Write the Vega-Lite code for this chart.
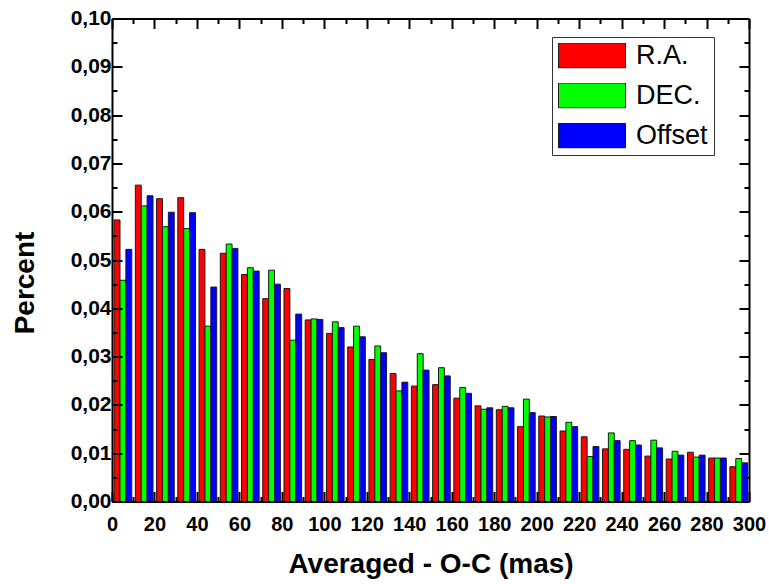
{
  "$schema": "https://vega.github.io/schema/vega-lite/v6.json",
  "autosize": "none",
  "width": 637,
  "height": 483,
  "padding": {"left": 112, "top": 18.5, "right": 20, "bottom": 82.5},
  "background": "white",
  "config": {
    "view": {"stroke": null},
    "font": "Liberation Sans",
    "axis": {
      "grid": false,
      "domainColor": "black",
      "domainWidth": 2,
      "tickColor": "black",
      "tickWidth": 2,
      "labelFont": "Liberation Sans",
      "labelFontWeight": "bold",
      "labelFontSize": 20,
      "labelColor": "black",
      "titleFont": "Liberation Sans",
      "titleFontWeight": "bold",
      "titleFontSize": 28,
      "titleColor": "black"
    }
  },
  "data": {
    "values": [
      {"b": 0, "s": "R.A.", "v": 0.0583}, {"b": 0, "s": "DEC.", "v": 0.0458}, {"b": 0, "s": "Offset", "v": 0.0522},
      {"b": 10, "s": "R.A.", "v": 0.0655}, {"b": 10, "s": "DEC.", "v": 0.0612}, {"b": 10, "s": "Offset", "v": 0.0633},
      {"b": 20, "s": "R.A.", "v": 0.0627}, {"b": 20, "s": "DEC.", "v": 0.0569}, {"b": 20, "s": "Offset", "v": 0.0599},
      {"b": 30, "s": "R.A.", "v": 0.0629}, {"b": 30, "s": "DEC.", "v": 0.0565}, {"b": 30, "s": "Offset", "v": 0.0598},
      {"b": 40, "s": "R.A.", "v": 0.0522}, {"b": 40, "s": "DEC.", "v": 0.0363}, {"b": 40, "s": "Offset", "v": 0.0444},
      {"b": 50, "s": "R.A.", "v": 0.0514}, {"b": 50, "s": "DEC.", "v": 0.0533}, {"b": 50, "s": "Offset", "v": 0.0524},
      {"b": 60, "s": "R.A.", "v": 0.0470}, {"b": 60, "s": "DEC.", "v": 0.0484}, {"b": 60, "s": "Offset", "v": 0.0477},
      {"b": 70, "s": "R.A.", "v": 0.0420}, {"b": 70, "s": "DEC.", "v": 0.0479}, {"b": 70, "s": "Offset", "v": 0.0450},
      {"b": 80, "s": "R.A.", "v": 0.0441}, {"b": 80, "s": "DEC.", "v": 0.0334}, {"b": 80, "s": "Offset", "v": 0.0388},
      {"b": 90, "s": "R.A.", "v": 0.0376}, {"b": 90, "s": "DEC.", "v": 0.0378}, {"b": 90, "s": "Offset", "v": 0.0377},
      {"b": 100, "s": "R.A.", "v": 0.0348}, {"b": 100, "s": "DEC.", "v": 0.0372}, {"b": 100, "s": "Offset", "v": 0.0360},
      {"b": 110, "s": "R.A.", "v": 0.0320}, {"b": 110, "s": "DEC.", "v": 0.0363}, {"b": 110, "s": "Offset", "v": 0.0341},
      {"b": 120, "s": "R.A.", "v": 0.0294}, {"b": 120, "s": "DEC.", "v": 0.0322}, {"b": 120, "s": "Offset", "v": 0.0308},
      {"b": 130, "s": "R.A.", "v": 0.0265}, {"b": 130, "s": "DEC.", "v": 0.0229}, {"b": 130, "s": "Offset", "v": 0.0247},
      {"b": 140, "s": "R.A.", "v": 0.0239}, {"b": 140, "s": "DEC.", "v": 0.0306}, {"b": 140, "s": "Offset", "v": 0.0272},
      {"b": 150, "s": "R.A.", "v": 0.0242}, {"b": 150, "s": "DEC.", "v": 0.0277}, {"b": 150, "s": "Offset", "v": 0.0260},
      {"b": 160, "s": "R.A.", "v": 0.0214}, {"b": 160, "s": "DEC.", "v": 0.0236}, {"b": 160, "s": "Offset", "v": 0.0224},
      {"b": 170, "s": "R.A.", "v": 0.0198}, {"b": 170, "s": "DEC.", "v": 0.0191}, {"b": 170, "s": "Offset", "v": 0.0194},
      {"b": 180, "s": "R.A.", "v": 0.0190}, {"b": 180, "s": "DEC.", "v": 0.0197}, {"b": 180, "s": "Offset", "v": 0.0194},
      {"b": 190, "s": "R.A.", "v": 0.0155}, {"b": 190, "s": "DEC.", "v": 0.0212}, {"b": 190, "s": "Offset", "v": 0.0184},
      {"b": 200, "s": "R.A.", "v": 0.0177}, {"b": 200, "s": "DEC.", "v": 0.0175}, {"b": 200, "s": "Offset", "v": 0.0176},
      {"b": 210, "s": "R.A.", "v": 0.0146}, {"b": 210, "s": "DEC.", "v": 0.0164}, {"b": 210, "s": "Offset", "v": 0.0155},
      {"b": 220, "s": "R.A.", "v": 0.0134}, {"b": 220, "s": "DEC.", "v": 0.0093}, {"b": 220, "s": "Offset", "v": 0.0114},
      {"b": 230, "s": "R.A.", "v": 0.0109}, {"b": 230, "s": "DEC.", "v": 0.0142}, {"b": 230, "s": "Offset", "v": 0.0126},
      {"b": 240, "s": "R.A.", "v": 0.0108}, {"b": 240, "s": "DEC.", "v": 0.0126}, {"b": 240, "s": "Offset", "v": 0.0117},
      {"b": 250, "s": "R.A.", "v": 0.0094}, {"b": 250, "s": "DEC.", "v": 0.0127}, {"b": 250, "s": "Offset", "v": 0.0111},
      {"b": 260, "s": "R.A.", "v": 0.0088}, {"b": 260, "s": "DEC.", "v": 0.0104}, {"b": 260, "s": "Offset", "v": 0.0096},
      {"b": 270, "s": "R.A.", "v": 0.0102}, {"b": 270, "s": "DEC.", "v": 0.0092}, {"b": 270, "s": "Offset", "v": 0.0096},
      {"b": 280, "s": "R.A.", "v": 0.0090}, {"b": 280, "s": "DEC.", "v": 0.0090}, {"b": 280, "s": "Offset", "v": 0.0090},
      {"b": 290, "s": "R.A.", "v": 0.0072}, {"b": 290, "s": "DEC.", "v": 0.0089}, {"b": 290, "s": "Offset", "v": 0.0080}
    ]
  },
  "transform": [
    {"calculate": "indexof(['R.A.', 'DEC.', 'Offset'], datum.s)", "as": "i"},
    {"calculate": "datum.b + 1 + 2.77 * datum.i", "as": "x0"},
    {"calculate": "datum.x0 + 2.77", "as": "x1"}
  ],
  "resolve": {"axis": {"x": "independent", "y": "independent"}},
  "layer": [
    {
      "mark": {"type": "bar", "stroke": "#1a1a1a", "strokeWidth": 1, "opacity": 1},
      "encoding": {
        "x": {
          "field": "x0", "type": "quantitative",
          "scale": {"domain": [0, 300], "nice": false, "zero": false},
          "axis": {
            "orient": "bottom",
            "zindex": 1,
            "tickCount": 30,
            "tickSize": {"condition": {"test": "datum.value % 20 === 0", "value": -10}, "value": -5},
            "labelExpr": "datum.value % 20 === 0 ? datum.label : ''",
            "labelPadding": 23,
            "labelFlush": false,
            "labelOverlap": false,
            "title": "Averaged - O-C (mas)",
            "titleBaseline": "alphabetic",
            "titleY": 71
          }
        },
        "x2": {"field": "x1"},
        "y": {
          "field": "v", "type": "quantitative",
          "scale": {"domain": [0, 0.1], "nice": false},
          "axis": {
            "orient": "left",
            "zindex": 1,
            "tickCount": 20,
            "labelFontSize": 21,
            "labelExpr": "round(datum.value * 1000) % 10 === 0 ? replace(format(datum.value, '.2f'), '.', ',') : ''",
            "tickSize": {"condition": {"test": "round(datum.value * 1000) % 10 === 0", "value": -10}, "value": -5},
            "labelPadding": 11,
            "labelFlush": false,
            "labelOverlap": false,
            "title": "Percent",
            "titleBaseline": "alphabetic",
            "titleX": -79,
            "titleY": 264
          }
        },
        "y2": {"datum": 0},
        "color": {
          "field": "s", "type": "nominal",
          "scale": {"domain": ["R.A.", "DEC.", "Offset"], "range": ["#FF0000", "#00FF00", "#0000FF"]},
          "legend": {
            "title": null,
            "orient": "none",
            "legendX": 440,
            "legendY": 18.5,
            "padding": 6,
            "strokeColor": "#333333",
            "fillColor": "white",
            "symbolType": "M-1,-0.373H1V0.373H-1Z",
            "symbolSize": 4489,
            "symbolStrokeColor": "#1a1a1a",
            "symbolStrokeWidth": 1,
            "symbolOpacity": 1,
            "clipHeight": 25,
            "rowPadding": 12,
            "labelOffset": 10,
            "labelFont": "Liberation Sans",
            "labelFontSize": 27,
            "labelColor": "black",
            "labelFontWeight": "normal"
          }
        }
      }
    },
    {
      "mark": {"type": "bar", "opacity": 0},
      "encoding": {
        "x": {
          "field": "x0", "type": "quantitative",
          "axis": {
            "orient": "top",
            "zindex": 1,
            "tickCount": 30,
            "tickSize": {"condition": {"test": "datum.value % 20 === 0", "value": -10}, "value": -5},
            "labels": false,
            "title": null
          }
        },
        "x2": {"field": "x1"},
        "y": {
          "field": "v", "type": "quantitative",
          "axis": {
            "orient": "right",
            "zindex": 1,
            "tickCount": 20,
            "tickSize": {"condition": {"test": "round(datum.value * 1000) % 10 === 0", "value": -10}, "value": -5},
            "labels": false,
            "title": null
          }
        },
        "y2": {"datum": 0}
      }
    }
  ]
}
